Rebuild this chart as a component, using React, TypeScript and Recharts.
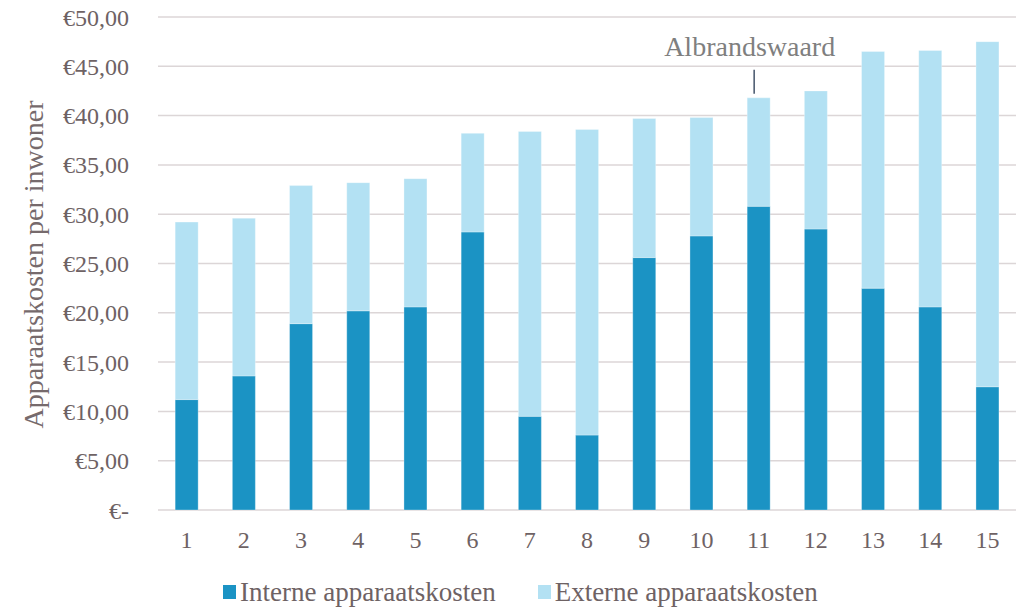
import React from 'react';
import {
  BarChart,
  Bar,
  XAxis,
  YAxis,
  CartesianGrid,
  Legend,
  LabelList,
  Label
} from 'recharts';

const categories = ['1', '2', '3', '4', '5', '6', '7', '8', '9', '10', '11', '12', '13', '14', '15'];
const interne = [11.2, 13.6, 18.9, 20.2, 20.6, 28.2, 9.5, 7.6, 25.6, 27.8, 30.8, 28.5, 22.5, 20.6, 12.5];
const externe = [18.0, 16.0, 14.0, 13.0, 13.0, 10.0, 28.9, 31.0, 14.1, 12.0, 11.0, 14.0, 24.0, 26.0, 35.0];
const yTicks = [0, 5, 10, 15, 20, 25, 30, 35, 40, 45, 50];
const seriesNames = ['Interne apparaatskosten', 'Externe apparaatskosten'];
const yAxisTitle = 'Apparaatskosten per inwoner';
const highlightCategory = '11';
const highlightLabel = 'Albrandswaard';

const data = categories.map((c, i) => ({ name: c, interne: interne[i], externe: externe[i] }));

const FONT = '"Liberation Serif", "Times New Roman", serif';
const TEXT = '#6e6264';
const DARK = '#1b93c4';
const LIGHT = '#b3e1f3';

const euro = (v: number) => (v === 0 ? '€-' : '€' + v.toFixed(2).replace('.', ','));

const renderAnnotation = (props: any) => {
  const { x, y, width, index } = props;
  if (categories[index] !== highlightCategory) return null;
  const cx = Number(x) + Number(width) / 2;
  const top = Number(y);
  return (
    <g>
      <line x1={cx - 4.5} x2={cx - 4.5} y1={top - 28} y2={top - 4} stroke="#44546a" strokeWidth={1.5} />
      <text x={cx - 9} y={top - 42} textAnchor="middle" fill="#7f7f7f" fontSize={28} fontFamily={FONT}>
        {highlightLabel}
      </text>
    </g>
  );
};

const renderYTitle = (props: any) => {
  const vb = props.viewBox || {};
  const cy = vb.y + vb.height / 2 + 1;
  return (
    <text
      x={43}
      y={cy}
      transform={`rotate(-90, 43, ${cy})`}
      textAnchor="middle"
      fill="#766a6c"
      fontSize={28}
      fontFamily={FONT}
    >
      {yAxisTitle}
    </text>
  );
};

const renderLegend = (props: any) => {
  const payload = [...(props.payload || [])].sort(
    (a: any, b: any) => seriesNames.indexOf(a.value) - seriesNames.indexOf(b.value)
  );
  return (
    <div style={{ display: 'flex', alignItems: 'center', fontFamily: FONT, fontSize: 27, color: TEXT, lineHeight: '30px', whiteSpace: 'nowrap' }}>
      {payload.map((p: any, i: number) => (
        <div key={i} style={{ display: 'flex', alignItems: 'center', marginRight: 42 }}>
          <span style={{ display: 'inline-block', width: 13, height: 14, background: p.color, marginRight: 4 }} />
          <span>{p.value}</span>
        </div>
      ))}
    </div>
  );
};

export default function App() {
  return (
    <div style={{ position: 'absolute', left: 0, top: 0, background: '#fff' }}>
      <BarChart
        width={1016}
        height={607}
        data={data}
        barCategoryGap="30%"
        margin={{ top: 17, right: 0, left: 0, bottom: 0 }}
      >
        <CartesianGrid vertical={false} stroke="#dcd6d7" strokeWidth={1.5} />
        <XAxis
          dataKey="name"
          height={97}
          tickLine={false}
          axisLine={false}
          tickMargin={15}
          tick={{ fill: TEXT, fontSize: 24, fontFamily: FONT }}
        />
        <YAxis
          width={158}
          domain={[0, 50]}
          ticks={yTicks}
          tickFormatter={euro}
          tickLine={false}
          axisLine={false}
          tickMargin={23}
          tick={{ fill: TEXT, fontSize: 24, fontFamily: FONT }}
        >
          <Label content={renderYTitle} />
        </YAxis>
        <Legend
          layout="horizontal"
          verticalAlign="middle"
          align="center"
          wrapperStyle={{ top: 577, left: 223, width: 'auto' }}
          content={renderLegend}
        />
        <Bar
          dataKey="interne"
          name={seriesNames[0]}
          stackId="a"
          fill={DARK}
          stroke="rgba(255,255,255,0.3)"
          isAnimationActive={false}
        />
        <Bar
          dataKey="externe"
          name={seriesNames[1]}
          stackId="a"
          fill={LIGHT}
          stroke="rgba(255,255,255,0.3)"
          isAnimationActive={false}
        >
          <LabelList dataKey="externe" content={renderAnnotation} />
        </Bar>
      </BarChart>
    </div>
  );
}
